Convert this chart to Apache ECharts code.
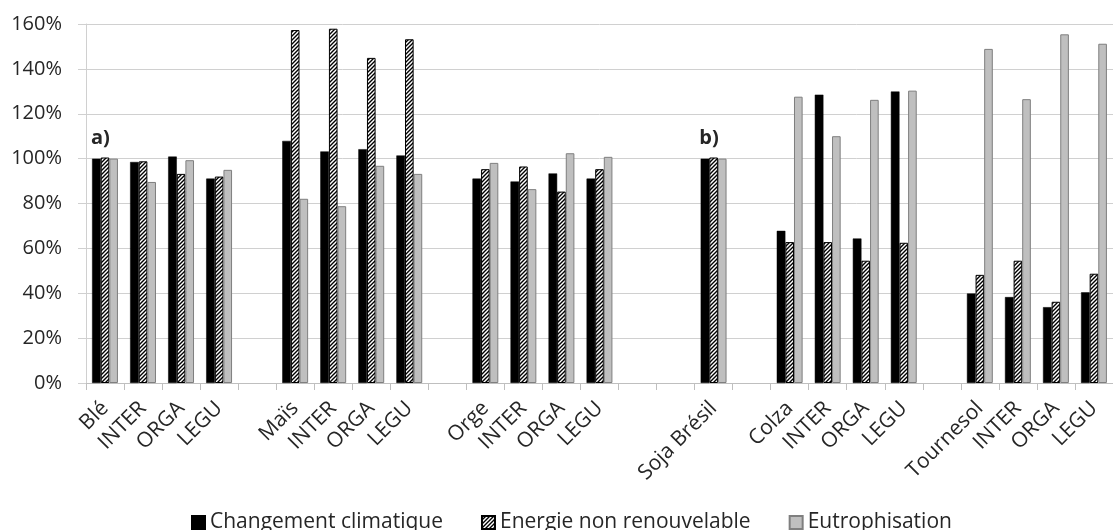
<!DOCTYPE html>
<html><head><meta charset="utf-8">
<script src="https://cdn.jsdelivr.net/npm/echarts@6/dist/echarts.min.js"></script>
<style>html,body{margin:0;padding:0;background:#fff}#c{width:1113px;height:530px}</style>
</head><body><div id="c"></div>
<script>
const categories = ['Blé','INTER','ORGA','LEGU','','Maïs','INTER','ORGA','LEGU','','Orge','INTER','ORGA','LEGU','','','Soja Brésil','','Colza','INTER','ORGA','LEGU','','Tournesol','INTER','ORGA','LEGU'];
const changementClimatique = [100,98.5,100.9,91.1,null,107.9,103.2,104.2,101.4,null,91.1,89.8,93.4,91.1,null,null,100,null,67.8,128.5,64.4,129.9,null,39.9,38.3,33.8,40.4];
const energieNonRenouvelable = [100.5,98.8,93.2,92,null,157.3,157.9,144.9,153.2,null,95.3,96.5,85.3,95.3,null,null,100.5,null,62.8,62.8,54.5,62.5,null,48.2,54.5,36.2,48.7];
const eutrophisation = [100,89.6,99.3,95,null,82.1,78.8,96.8,93.2,null,98.1,86.4,102.4,100.8,null,null,100,null,127.6,110,126.2,130.3,null,148.9,126.5,155.4,151.2];
const seriesNames = ['Changement climatique','Energie non renouvelable','Eutrophisation'];
const yMin = 0, yMax = 160, yStep = 20;
const annotations = [{idx:0, val:109, text:'a)'},{idx:16, val:109, text:'b)'}];

// hatch pattern
const pc = document.createElement('canvas');
pc.width = 4; pc.height = 4;
const px = pc.getContext('2d');
px.fillStyle = '#fff'; px.fillRect(0,0,4,4);
px.strokeStyle = '#000'; px.lineWidth = 1.4;
px.beginPath();
px.moveTo(-1,5); px.lineTo(5,-1);
px.moveTo(-1,1); px.lineTo(1,-1);
px.moveTo(3,5); px.lineTo(5,3);
px.stroke();
const hatch = {image: pc, repeat: 'repeat'};

const font = 'Open Sans';
const chart = echarts.init(document.getElementById('c'), null, {renderer:'canvas'});
chart.setOption({
  animation: false,
  textStyle: {fontFamily: font},
  grid: {left: 86, top: 24, width: 1037, height: 359, containLabel: false},
  legend: {
    left: 186, top: 507, itemWidth: 13, itemHeight: 13, itemGap: 38,
    icon: 'rect',
    textStyle: {fontSize: 21, color: '#262626', fontFamily: font},
    data: seriesNames
  },
  xAxis: {
    type: 'category', data: categories,
    axisLine: {lineStyle: {color: '#bfbfbf', width: 1}},
    axisTick: {show: true, length: 7, lineStyle: {color: '#bfbfbf'}},
    axisLabel: {interval: 0, rotate: 45, fontSize: 21, color: '#262626', margin: 22, fontFamily: font},
    splitLine: {show: false}
  },
  yAxis: {
    type: 'value', min: yMin, max: yMax, interval: yStep,
    axisLine: {show: true, lineStyle: {color: '#d0d0d0'}},
    axisTick: {show: true, length: 8, lineStyle: {color: '#d0d0d0'}},
    axisLabel: {formatter: v => v + '%', fontSize: 20, color: '#262626', margin: 24, fontFamily: font},
    splitLine: {lineStyle: {color: '#d0d0d0', width: 1}}
  },
  series: [
    {
      name: seriesNames[0], type: 'bar', data: changementClimatique,
      barGap: '0%', barCategoryGap: '32%',
      itemStyle: {color: '#000', borderColor: '#000', borderWidth: 0.5},
      markPoint: {
        symbol: 'rect', symbolSize: 1,
        itemStyle: {color: 'rgba(0,0,0,0)'},
        label: {show: true, position: 'inside', offset: [4, 0], formatter: p => p.name, fontSize: 20, fontWeight: 'bold', color: '#262626', fontFamily: font},
        data: annotations.map(a => ({name: a.text, coord: [a.idx, a.val]}))
      }
    },
    {
      name: seriesNames[1], type: 'bar', data: energieNonRenouvelable,
      barGap: '0%', barCategoryGap: '32%',
      itemStyle: {color: hatch, borderColor: '#000', borderWidth: 1}
    },
    {
      name: seriesNames[2], type: 'bar', data: eutrophisation,
      barGap: '0%', barCategoryGap: '32%',
      itemStyle: {color: '#bfbfbf', borderColor: '#7f7f7f', borderWidth: 1}
    }
  ]
});
</script></body></html>
